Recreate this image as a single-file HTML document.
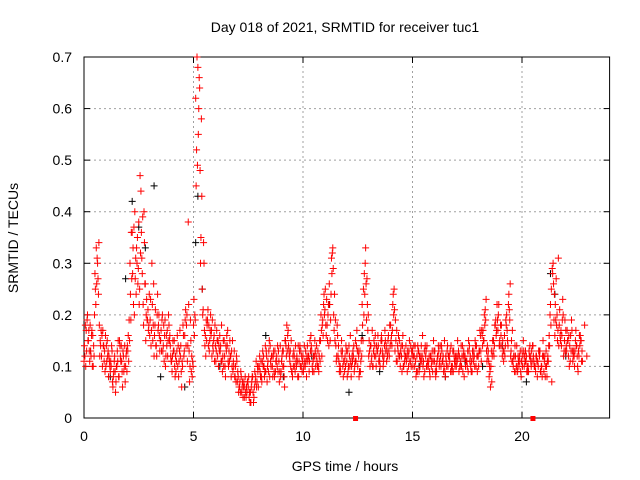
<!DOCTYPE html>
<html><head><meta charset="utf-8"><style>
html,body{margin:0;padding:0;background:#fff}
svg{display:block;font-family:"Liberation Sans",sans-serif}
</style></head><body>
<svg id="chart" width="640" height="480" viewBox="0 0 640 480" xmlns="http://www.w3.org/2000/svg">
<rect width="640" height="480" fill="#fff"/>
<g id="grid"></g>
<g id="axes"></g>
<g id="marks"></g>
<text x="345" y="32" font-size="14" text-anchor="middle">Day 018 of 2021, SRMTID for receiver tuc1</text>
<text x="345" y="471" font-size="14" text-anchor="middle">GPS time / hours</text>
<text transform="translate(18,238) rotate(-90)" font-size="14" text-anchor="middle">SRMTID / TECUs</text>
</svg>
<script>
const xTicks=[0,5,10,15,20];
const yTicks=[0,0.1,0.2,0.3,0.4,0.5,0.6,0.7];
const yTickLabels=["0","0.1","0.2","0.3","0.4","0.5","0.6","0.7"];
const sampleStep=0.1;
const seriesA=[.11,.17,.15,.13,.16,.28,.31,.18,.12,.14,.10,.13,.09,.07,.12,.10,.08,.14,.12,.10,.13,.30,.36,.20,.33,.38,.44,.22,.26,.19,.16,.30,.12,.14,.18,.15,.13,.19,.17,.15,.11,.13,.09,.14,.12,.10,.16,.20,.13,.09,.18,.62,.68,.48,.25,.17,.15,.18,.16,.13,.14,.12,.16,.11,.15,.13,.10,.12,.09,.08,.07,.06,.05,.07,.04,.06,.05,.08,.09,.07,.10,.08,.12,.09,.11,.14,.10,.08,.12,.11,.09,.13,.15,.16,.11,.09,.12,.10,.08,.13,.12,.10,.14,.11,.13,.09,.12,.10,.15,.19,.21,.18,.26,.31,.20,.14,.12,.10,.13,.09,.11,.14,.08,.12,.15,.10,.13,.22,.28,.19,.12,.14,.10,.16,.13,.11,.15,.12,.14,.16,.18,.22,.13,.11,.15,.12,.10,.14,.12,.11,.13,.10,.12,.09,.14,.11,.12,.10,.08,.13,.11,.09,.13,.10,.12,.08,.14,.11,.09,.12,.10,.13,.11,.09,.12,.10,.14,.11,.13,.10,.12,.16,.14,.18,.11,.08,.13,.15,.19,.17,.14,.12,.16,.20,.24,.13,.10,.12,.09,.11,.13,.10,.12,.09,.11,.14,.10,.08,.12,.10,.09,.13,.11,.22,.28,.16,.20,.18,.14,.12,.17,.15,.11,.13,.10,.14,.12,.15];
const seriesB=[.14,.13,.17,.12,.10,.25,.30,.12,.16,.11,.14,.08,.11,.06,.09,.13,.15,.11,.09,.12,.16,.24,.28,.40,.30,.22,.36,.18,.15,.21,.19,.22,.16,.12,.20,.17,.14,.10,.12,.16,.09,.15,.11,.08,.14,.18,.19,.11,.07,.12,.23,.45,.55,.30,.20,.14,.18,.13,.17,.15,.11,.15,.13,.09,.12,.16,.13,.08,.11,.10,.09,.07,.06,.04,.06,.08,.03,.05,.07,.10,.12,.07,.10,.13,.09,.11,.08,.13,.10,.07,.11,.10,.14,.17,.13,.08,.10,.12,.11,.10,.09,.13,.11,.15,.10,.12,.14,.09,.20,.16,.25,.15,.22,.28,.17,.11,.14,.09,.10,.12,.08,.12,.10,.14,.11,.13,.09,.18,.24,.27,.15,.11,.13,.12,.16,.10,.13,.14,.11,.13,.15,.24,.19,.14,.12,.09,.13,.11,.10,.14,.10,.14,.09,.12,.11,.08,.13,.10,.12,.09,.13,.11,.10,.14,.09,.12,.10,.13,.10,.11,.12,.09,.14,.12,.10,.13,.11,.09,.12,.14,.10,.13,.17,.21,.14,.10,.07,.12,.16,.20,.18,.15,.12,.17,.21,.15,.12,.09,.12,.13,.10,.12,.09,.13,.10,.12,.09,.11,.13,.08,.11,.10,.14,.18,.30,.22,.15,.21,.16,.13,.14,.12,.16,.11,.13,.12,.16,.11];
const seriesC=[.12,.19,.13,.16,.14,.22,.27,.15,.10,.13,.11,.12,.10,.08,.05,.11,.14,.09,.10,.13,.11,.19,.33,.27,.35,.25,.31,.40,.20,.17,.23,.15,.18,.20,.16,.13,.18,.12,.15,.14,.12,.10,.13,.11,.09,.16,.21,.14,.10,.08,.16,.52,.60,.35,.21,.16,.19,.15,.12,.16,.13,.10,.14,.12,.10,.14,.11,.13,.10,.07,.08,.05,.07,.06,.05,.04,.06,.03,.08,.09,.09,.11,.08,.12,.13,.10,.12,.09,.14,.09,.12,.08,.12,.14,.10,.12,.09,.11,.13,.12,.10,.11,.12,.13,.09,.15,.11,.12,.17,.22,.18,.20,.15,.32,.24,.12,.11,.13,.08,.10,.13,.10,.12,.09,.14,.12,.11,.15,.30,.22,.13,.12,.15,.10,.14,.13,.12,.17,.13,.12,.16,.20,.15,.13,.10,.14,.11,.12,.13,.10,.12,.11,.14,.10,.12,.13,.10,.11,.12,.11,.09,.12,.11,.13,.10,.11,.12,.09,.13,.10,.11,.12,.10,.13,.11,.09,.12,.13,.10,.12,.13,.11,.15,.19,.12,.09,.12,.14,.17,.22,.16,.13,.14,.15,.19,.11,.12,.10,.11,.09,.12,.11,.10,.12,.13,.11,.12,.10,.09,.12,.12,.08,.16,.25,.26,.19,.17,.16,.19,.15,.13,.16,.13,.12,.15,.10,.14,.13];
const seriesD=[.18,.20,.11,.17,.12,.33,.24,.14,.17,.09,.15,.11,.14,.09,.07,.15,.12,.06,.14,.09,.19,.36,.22,.31,.26,.47,.28,.34,.23,.18,.14,.18,.21,.24,.13,.19,.11,.16,.20,.12,.15,.08,.16,.13,.06,.12,.14,.38,.19,.11,.20,.70,.66,.58,.34,.12,.21,.17,.19,.11,.17,.14,.11,.15,.08,.17,.15,.10,.13,.12,.05,.09,.04,.08,.07,.05,.07,.04,.11,.06,.08,.13,.09,.07,.15,.12,.13,.11,.09,.14,.13,.06,.18,.13,.15,.10,.14,.08,.14,.09,.14,.08,.12,.16,.11,.13,.10,.15,.12,.24,.16,.22,.19,.33,.15,.18,.09,.15,.11,.14,.09,.16,.11,.10,.17,.08,.15,.25,.33,.17,.10,.17,.12,.14,.11,.15,.10,.15,.12,.18,.14,.25,.11,.16,.13,.16,.12,.09,.15,.13,.14,.08,.13,.11,.16,.09,.14,.12,.10,.15,.08,.12,.14,.11,.15,.10,.12,.14,.09,.12,.15,.10,.12,.08,.11,.15,.10,.12,.15,.09,.13,.17,.15,.23,.13,.06,.15,.18,.22,.14,.18,.11,.19,.14,.26,.17,.09,.14,.10,.08,.15,.13,.09,.14,.11,.10,.12,.13,.09,.15,.08,.11,.14,.07,.19,.27,.31,.15,.23,.19,.17,.10,.19,.13,.17,.09,.16,.11,.18,.12];
const seriesE=[.10,.15,.18,.10,.20,.26,.34,.17,.14,.16,.12,.10,.13,.11,.10,.08,.11,.13,.07,.14,.15,.27,.37,.24,.29,.32,.39,.26,.19,.24,.17,.26,.14,.17,.15,.20,.16,.14,.18,.11,.13,.12,.10,.17,.11,.13,.18,.22,.15,.10,.19,.49,.64,.43,.30,.19,.14,.20,.14,.18,.15,.13,.18,.10,.14,.11,.12,.15,.08,.11,.06,.08,.06,.05,.07,.03,.08,.06,.06,.10,.11,.10,.14,.10,.08,.12,.09,.11,.13,.08,.10,.15,.13,.12,.09,.13,.11,.14,.10,.11,.11,.12,.09,.14,.12,.10,.13,.11,.18,.20,.23,.14,.24,.29,.19,.16,.10,.12,.11,.13,.10,.11,.13,.11,.13,.09,.12,.20,.26,.20,.14,.10,.14,.13,.12,.16,.11,.13,.15,.14,.17,.21,.17,.12,.14,.10,.12,.13,.11,.12,.12,.09,.13,.12,.10,.14,.11,.09,.11,.13,.10,.14,.12,.11,.09,.13,.12,.10,.13,.11,.12,.10,.14,.12,.11,.13,.09,.11,.14,.12,.17,.16,.20,.13,.11,.10,.13,.18,.19,.15,.14,.13,.18,.22,.12,.11,.14,.10,.12,.11,.13,.11,.10,.12,.14,.10,.11,.13,.10,.12,.10,.12,.20,.29,.24,.18,.14,.17,.20,.13,.15,.14,.17,.12,.14,.13,.15];
const blackTimes=[0.3,1.2,1.9,2.2,2.5,2.8,3.2,3.5,4.1,4.6,5.1,5.2,5.4,6.2,7.6,8.3,9.1,10.4,11.2,12.1,12.7,13.5,14.4,15.3,16.5,17.4,18.2,19.1,20.2,21.3,21.5,22.0];
const blackValues=[.13,.08,.27,.42,.37,.33,.45,.08,.13,.06,.34,.43,.25,.10,.03,.16,.08,.12,.22,.05,.16,.09,.12,.10,.08,.11,.10,.14,.07,.28,.24,.12];
const zeroMarkTimes=[12.4,20.5];

const X0=84,X1=609.6,Y0=418,Y1=57,XMAX=24,YMAX=0.7;
const xs=t=>X0+(X1-X0)*t/XMAX;
const ys=v=>Y0-(Y0-Y1)*v/YMAX;
const NS="http://www.w3.org/2000/svg";
function mk(tag,attrs,parent){const e=document.createElementNS(NS,tag);for(const k in attrs)e.setAttribute(k,attrs[k]);parent.appendChild(e);return e;}
const grid=document.getElementById('grid'),axes=document.getElementById('axes'),marks=document.getElementById('marks');
xTicks.forEach(t=>{
  if(t>0){const g=mk('line',{x1:xs(t),x2:xs(t),y1:Y0,y2:Y1,stroke:'#a0a0a0','stroke-dasharray':'2,3'},grid);
  
  }
  mk('line',{x1:xs(t),x2:xs(t),y1:Y0,y2:Y0-6,stroke:'#000'},axes);
  mk('line',{x1:xs(t),x2:xs(t),y1:Y1,y2:Y1+6,stroke:'#000'},axes);
  const l=mk('text',{x:xs(t),y:Y0+23,'font-size':14,'text-anchor':'middle'},axes);l.textContent=t;
  
  
});
yTicks.forEach((v,i)=>{
  if(v>0&&v<YMAX-1e-9){const g=mk('line',{x1:X0,x2:X1,y1:ys(v),y2:ys(v),stroke:'#a0a0a0','stroke-dasharray':'2,3'},grid);
  
  }
  mk('line',{x1:X0,x2:X0+6,y1:ys(v),y2:ys(v),stroke:'#000'},axes);
  mk('line',{x1:X1,x2:X1-6,y1:ys(v),y2:ys(v),stroke:'#000'},axes);
  const l=mk('text',{x:X0-12,y:ys(v)+5,'font-size':14,'text-anchor':'end'},axes);l.textContent=yTickLabels[i];
  
  
});
const frame=mk('rect',{x:X0,y:Y1,width:X1-X0,height:Y0-Y1,fill:'none',stroke:'#000'},axes);


function plus(t,v,color,name){
  const x=xs(t),y=ys(v);
  const p=mk('path',{d:`M${x-3.5},${y}H${x+3.5}M${x},${y-3.5}V${y+3.5}`,stroke:color,'stroke-width':1,fill:'none'},marks);
  
  
}
blackTimes.forEach((t,i)=>plus(t,blackValues[i],'#000','black-point'));
[seriesA,seriesB,seriesC,seriesD,seriesE].forEach((s,k)=>s.forEach((v,i)=>plus(i*sampleStep+k*0.02,v,'#ff0000','red-point')));
zeroMarkTimes.forEach(t=>{
  const r=mk('rect',{x:xs(t)-2.5,y:ys(0)-2,width:5,height:5,fill:'#ff0000'},marks);
  
  
});
</script>
</body></html>
